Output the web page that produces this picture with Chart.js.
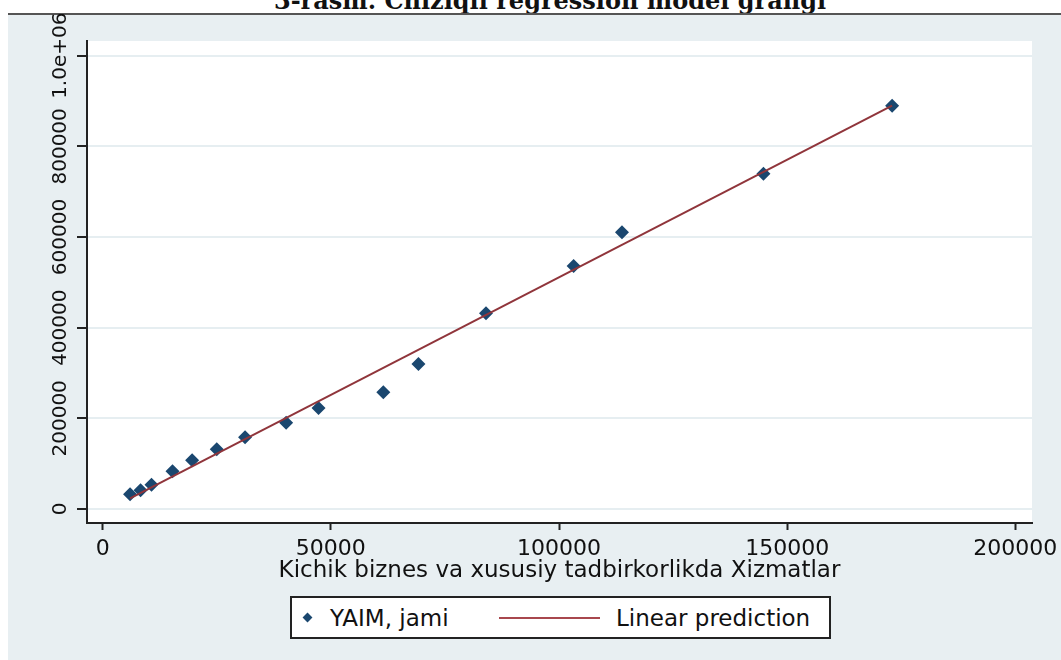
<!DOCTYPE html>
<html>
<head>
<meta charset="utf-8">
<script src="https://cdn.jsdelivr.net/npm/chart.js"></script>
<style>
  html, body { margin: 0; padding: 0; background: #fff; overflow: hidden; }
  body { width: 1061px; height: 660px; position: relative; }
  #title {
    position: absolute; left: 0; width: 1100px; top: -11px;
    text-align: center; font: bold 24px "DejaVu Serif", serif; line-height: 24px; color: #111;
  }
  #frame {
    position: absolute; left: 8px; top: 13px; width: 1053px; height: 647px;
    background: #e8eff2; border-top: 2px solid #555; box-sizing: border-box;
  }
  #chart { position: absolute; left: 8px; top: 14px; }
  #legend {
    position: absolute; left: 290px; top: 596px; width: 541px; height: 43px;
    background: #fff; border: 2px solid #222; box-sizing: border-box;
    font: 23px "DejaVu Sans", sans-serif; color: #111;
  }
  #legend span { position: absolute; top: 50%; transform: translateY(-50%); white-space: nowrap; }
  .dia { position: absolute; left: 12px; top: 16px; width: 7px; height: 7px; background: #1a476f; transform: rotate(45deg); }
  .ln { position: absolute; left: 207px; top: 19px; width: 101px; height: 2px; background: #a8474d; }
</style>
</head>
<body>
<div id="title">3-rasm. Chiziqli regression model grafigi</div>
<div id="frame"></div>
<canvas id="chart" width="1053" height="646"></canvas>
<div id="legend">
  <div class="dia"></div><span style="left:38px">YAIM, jami</span>
  <div class="ln"></div><span style="left:324px">Linear prediction</span>
</div>
<script>
// Kichik biznes va xususiy tadbirkorlikda Xizmatlar (x) vs YAIM, jami (y)
const xServices = [6000, 8300, 10700, 15300, 19600, 25000, 31200, 40200, 47300, 61500, 69200, 84000, 103200, 113800, 144800, 173000];
const yGdp = [32400, 41300, 53600, 83200, 107400, 131700, 158100, 190400, 222800, 257400, 319900, 431700, 536100, 610400, 739700, 889700];

// fitted line, end points
const fitX = [6000, 173000];
const fitY = [23600, 889700];

const xTicks = [0, 50000, 100000, 150000, 200000];
const xTickLabels = ['0', '50000', '100000', '150000', '200000'];
const yTicks = [0, 200000, 400000, 600000, 800000, 1000000];
const yTickLabels = ['0', '200000', '400000', '600000', '800000', '1.0e+06'];

const plotBg = {
    id: 'plotBg',
    beforeDraw(chart) {
        const { ctx, chartArea: a } = chart;
        ctx.save();
        ctx.fillStyle = '#ffffff';
        ctx.fillRect(a.left, a.top, a.right - a.left, a.bottom - a.top);
        ctx.restore();
    }
};

new Chart(document.getElementById('chart').getContext('2d'), {
    type: 'scatter',
    data: {
        datasets: [
            {
                label: 'Linear prediction',
                data: fitX.map((x, i) => ({ x, y: fitY[i] })),
                showLine: true,
                borderColor: '#90353b',
                borderWidth: 2,
                pointRadius: 0
            },
            {
                label: 'YAIM, jami',
                data: xServices.map((x, i) => ({ x, y: yGdp[i] })),
                pointStyle: 'rectRot',
                pointRadius: 7,
                backgroundColor: '#1a476f',
                borderColor: '#1a476f',
                borderWidth: 0
            }
        ]
    },
    options: {
        responsive: false,
        animation: false,
        devicePixelRatio: 1,
        layout: { padding: { top: 27, right: 29, left: 0, bottom: 0 } },
        plugins: {
            legend: { display: false },
            tooltip: { enabled: false }
        },
        scales: {
            x: {
                type: 'linear',
                min: -3442,
                max: 203660,
                afterBuildTicks: s => { s.ticks = xTicks.map(v => ({ value: v })); },
                afterFit: s => { s.height = 137; s.paddingLeft = 0; s.paddingRight = 0; },
                ticks: {
                    font: { family: 'DejaVu Sans', size: 22 }, color: '#111',
                    padding: 6, maxRotation: 0, autoSkip: false,
                    callback: (v, i) => xTickLabels[i]
                },
                grid: { drawOnChartArea: false, tickLength: 7, tickColor: '#222', tickWidth: 2 },
                border: { color: '#222', width: 2 },
                title: {
                    display: true,
                    text: 'Kichik biznes va xususiy tadbirkorlikda Xizmatlar',
                    font: { family: 'DejaVu Sans', size: 23 },
                    color: '#111',
                    padding: { top: 0, bottom: 75 }
                }
            },
            y: {
                type: 'linear',
                min: -30885,
                max: 1032430,
                afterBuildTicks: s => { s.ticks = yTicks.map(v => ({ value: v })); },
                afterFit: s => { s.width = 79; s.paddingTop = 0; s.paddingBottom = 0; },
                ticks: {
                    font: { family: 'DejaVu Sans', size: 20 }, color: '#111',
                    minRotation: 90, maxRotation: 90,
                    crossAlign: 'center', padding: -27, autoSkip: false,
                    callback: (v, i) => yTickLabels[i]
                },
                grid: { color: '#e6eef1', lineWidth: 2, tickLength: 10, tickColor: '#222', tickWidth: 2 },
                border: { color: '#222', width: 2 }
            }
        }
    },
    plugins: [plotBg]
});
</script>
</body>
</html>
